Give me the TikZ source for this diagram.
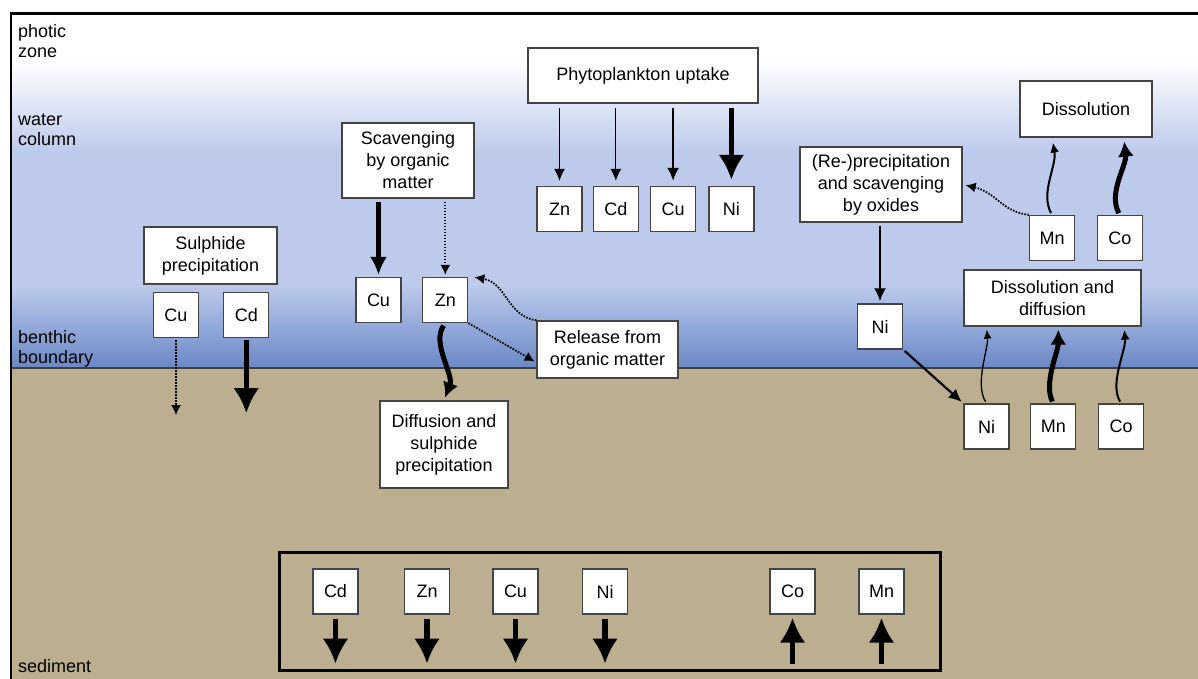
\documentclass[tikz,border=0pt]{standalone}
\usepackage{fontspec}
\setmainfont{Liberation Sans}
\usepackage{tikz}
\usetikzlibrary{arrows.meta, positioning}

\definecolor{waterblue}{HTML}{BDCAEC}
\definecolor{deepblue}{HTML}{6A88C5}
\definecolor{sedimentbrown}{HTML}{BBAF90}
\definecolor{boxline}{HTML}{444444}

\begin{document}
\begin{tikzpicture}[
        x=1pt, y=-1pt,
        font=\fontsize{18}{22}\selectfont,
        box/.style={draw=boxline, line width=1.3pt, fill=white, rectangle, align=center, inner sep=0pt},
        elem/.style={box, minimum width=45pt, minimum height=45pt},
        zone/.style={anchor=north west, align=left, inner sep=0pt, font=\fontsize{18}{20}\selectfont},
        thinflow/.style={-{Latex[length=12pt, width=11pt]}, line width=1.3pt},
        midflow/.style={-{Latex[length=13pt, width=12pt]}, line width=2.2pt},
        heavyflow/.style={-{Latex[length=18pt, width=17pt]}, line width=4.3pt},
        boldflow/.style={-{Latex[length=25pt, width=26pt]}, line width=5.5pt},
        dotflow/.style={-{Latex[length=10pt, width=10pt]}, line width=1.8pt, dash pattern=on 1.6pt off 1.4pt},
        wavethin/.style={-{Latex[length=9pt, width=8pt]}, line width=1.3pt},
        wavemid/.style={-{Latex[length=10pt, width=9pt]}, line width=2pt},
        wavebold/.style={-{Latex[length=15pt, width=16pt]}, line width=5pt}
    ]
        \useasboundingbox (0,0) rectangle (1198,679);

        % Background layers
        \fill[white] (0,0) rectangle (1198,679);
        \shade[top color=white, bottom color=waterblue] (11,60) rectangle (1198,152);
        \fill[waterblue] (11,151.5) rectangle (1198,285);
        \shade[top color=waterblue, bottom color=deepblue] (11,284.5) rectangle (1198,368);
        \fill[sedimentbrown] (11,368) rectangle (1198,679);
        \draw[black!75, line width=1.2pt] (11,368) -- (1198,368);
        \draw[line width=2.8pt] (11,679) -- (11,13.5) -- (1198,13.5);

        % Zone labels
        \node[zone] (photic) at (18,24) {photic\\zone};
        \node[zone] (water) at (18,114) {water\\column};
        \node[zone] (benthic) at (18,330) {benthic\\boundary};
        \node[zone] (sediment) at (18,659) {sediment};

        % Sulphide precipitation
        \node[box, minimum width=133pt, minimum height=57pt] (sulphide) at (210.5,255.5) {Sulphide\\precipitation};
        \node[elem] (cuS) at (176,315) {Cu};
        \node[elem, right=24pt of cuS] (cdS) {Cd};

        % Organic matter
        \node[box, minimum width=132pt, minimum height=75pt] (scav) at (408,160.5) {Scavenging\\by organic\\matter};
        \node[elem] (cuO) at (378.5,300) {Cu};
        \node[elem, right=20.5pt of cuO] (znO) {Zn};
        \node[box, minimum width=141pt, minimum height=57pt] (release) at (607.5,349.5) {Release from\\organic matter};
        \node[box, minimum width=128pt, minimum height=87pt] (diffusion) at (444,444.5) {Diffusion and\\sulphide\\precipitation};

        % Phytoplankton uptake
        \node[box, minimum width=230pt, minimum height=55pt] (phyto) at (643,75.5) {Phytoplankton uptake};
        \node[elem] (znP) at (559.5,209) {Zn};
        \node[elem, right=10pt of znP] (cdP) {Cd};
        \node[elem, right=11pt of cdP] (cuP) {Cu};
        \node[elem, right=12pt of cuP] (niP) {Ni};

        % Oxides
        \node[box, minimum width=132pt, minimum height=56pt] (dissol) at (1086,109) {Dissolution};
        \node[box, minimum width=162pt, minimum height=75pt] (reprecip) at (881,184.5) {(Re-)precipitation\\and scavenging\\by oxides};
        \node[elem] (mnT) at (1052,238) {Mn};
        \node[elem, right=21.5pt of mnT] (coT) {Co};
        \node[box, minimum width=177pt, minimum height=56pt] (dissdiff) at (1052.5,298) {Dissolution and\\diffusion};
        \node[elem] (niM) at (880,326.5) {Ni};
        \node[elem] (niB) at (986.5,426.5) {Ni};
        \node[elem, right=20.5pt of niB] (mnB) {Mn};
        \node[elem, right=21.5pt of mnB] (coB) {Co};

        % Burial
        \node[draw, line width=3pt, minimum width=661pt, minimum height=118pt, inner sep=0pt] (burial) at (609.5,611) {};
        \foreach \name/\lbl/\xpos in {cdX/Cd/335.5, znX/Zn/427, cuX/Cu/515.5, niX/Ni/605} {
            \node[elem] (\name) at (\xpos,591.5) {\lbl};
            \draw[boldflow, shorten <=4pt] (\name.south) -- ++(0,49);
        }
        \foreach \name/\lbl/\xpos in {coX/Co/792.5, mnX/Mn/881.5} {
            \node[elem] (\name) at (\xpos,591.5) {\lbl};
            \draw[boldflow, shorten >=3pt] ([yshift=-49pt]\name.south) -- (\name.south);
        }

        % Arrows
        \draw[dotflow, shorten <=2pt] (cuS.south) -- ++(0,77);
        \draw[boldflow, shorten <=2pt] (cdS.south) -- ++(0,75);

        \draw[heavyflow, shorten <=3pt, shorten >=2pt] (scav.south -| cuO) -- (cuO.north);
        \draw[dotflow, shorten <=3pt, shorten >=2pt] (scav.south -| znO) -- (znO.north);
        \draw[dotflow, shorten >=2pt] (release.north west) .. controls +(-29,-4) and +(34,6) .. ([xshift=4pt]znO.north east);
        \draw[dotflow, shorten >=2pt] (znO.south east) -- ([yshift=-13pt]release.west);
        \draw[wavebold, shorten <=3pt, shorten >=3pt] (znO.south) .. controls +(-14,20) and +(10,-26) .. (diffusion.north);

        \draw[thinflow, shorten <=4pt, shorten >=5pt] (phyto.south -| znP) -- (znP.north);
        \draw[thinflow, shorten <=4pt, shorten >=5pt] (phyto.south -| cdP) -- (cdP.north);
        \draw[midflow, shorten <=4pt, shorten >=5pt] (phyto.south -| cuP) -- (cuP.north);
        \draw[boldflow, shorten <=4pt, shorten >=6pt] (phyto.south -| niP) -- (niP.north);

        \draw[midflow, shorten <=3pt, shorten >=2pt] (reprecip.south -| niM) -- (niM.north);
        \draw[midflow, shorten <=2pt, shorten >=2pt] (niM.south east) -- (niB.north west);
        \draw[dotflow, shorten >=3pt] (mnT.north west) .. controls +(-27,-3) and +(34,8) .. (reprecip.east);
        \draw[wavemid, shorten <=2pt, shorten >=5pt] (mnT.north) .. controls +(-12,-22) and +(5,28) .. (dissol.south -| mnT);
        \draw[wavebold, shorten <=2pt, shorten >=4pt] (coT.north) .. controls +(-12,-22) and +(3,28) .. ([xshift=4pt]dissol.south -| coT);

        \draw[wavethin, shorten <=2pt, shorten >=3pt] (niB.north) .. controls +(-12,-20) and +(2,22) .. (dissdiff.south -| niB);
        \draw[wavebold, shorten <=2pt, shorten >=3pt] (mnB.north) .. controls +(-10,-20) and +(0,25) .. ([xshift=5pt]dissdiff.south -| mnB);
        \draw[wavemid, shorten <=2pt, shorten >=3pt] (coB.north) .. controls +(-12,-20) and +(2,24) .. ([xshift=3pt]dissdiff.south -| coB);
    \end{tikzpicture}
\end{document}
